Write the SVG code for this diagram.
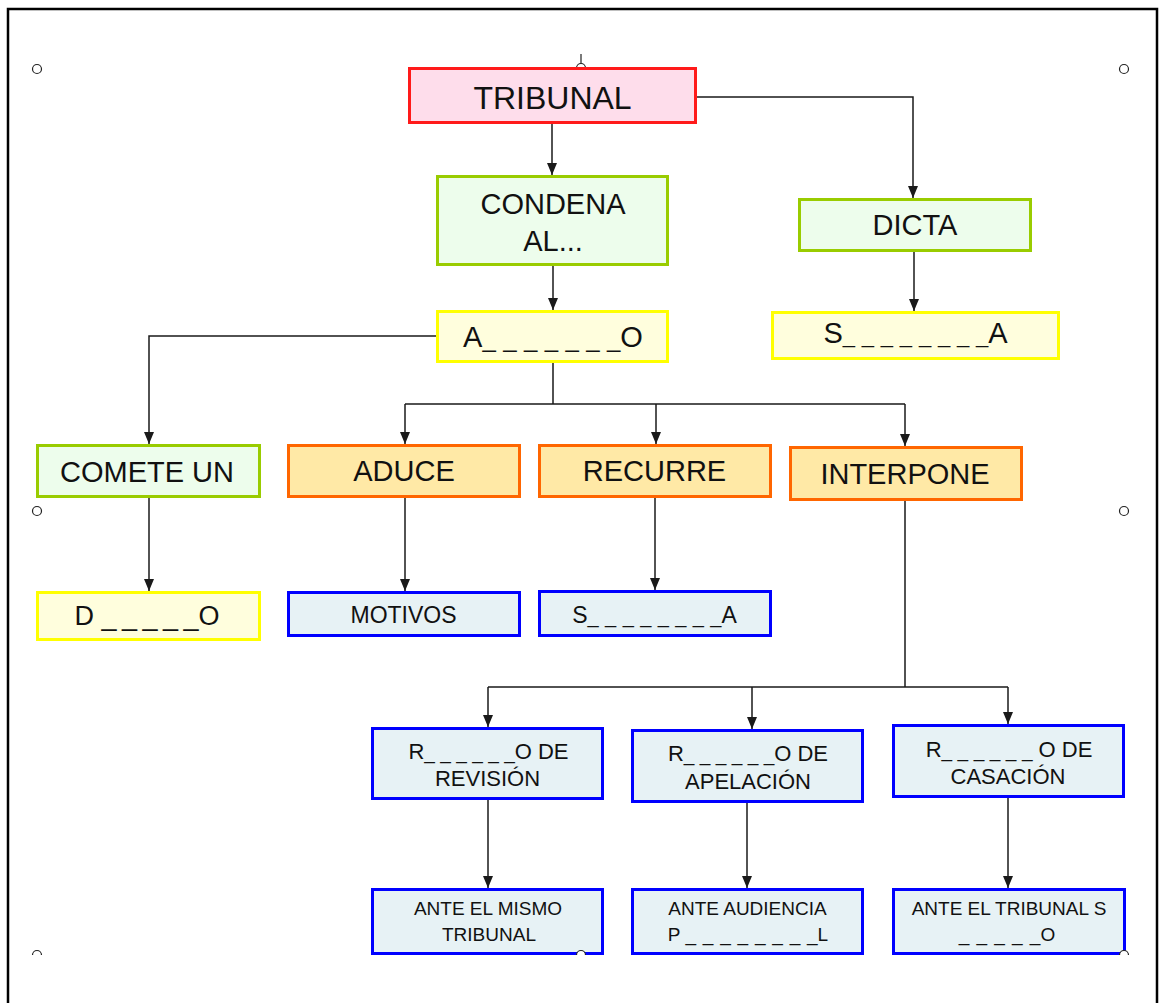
<svg xmlns="http://www.w3.org/2000/svg" width="1164" height="1003" viewBox="0 0 1164 1003">
  <defs>
    <style>
      .box { stroke-width: 3; }
      .red { fill: #FEDDEB; stroke: #FF1A1A; }
      .green { fill: #EDFDEC; stroke: #99CC00; }
      .yellow { fill: #FFFEDD; stroke: #FFFF00; }
      .orange { fill: #FFE9A6; stroke: #FF6600; }
      .blue { fill: #E7F2F5; stroke: #0000FF; }
      text { font-family: "Liberation Sans", Arial, sans-serif; fill: #111; text-anchor: middle; }
      .big { font-size: 29px; }
      .mid { font-size: 22px; }
      .sm { font-size: 19px; }
      .wire { fill: none; stroke: #1a1a1a; stroke-width: 1.5; }
      .arrow { fill: none; stroke: #1a1a1a; stroke-width: 1.5; marker-end: url(#head); }
      .handle { fill: #fff; stroke: #222; stroke-width: 1.2; }
    </style>
    <marker id="head" markerUnits="userSpaceOnUse" viewBox="0 0 12 10" refX="12" refY="5" markerWidth="12" markerHeight="10" orient="auto">
      <path d="M0,0 L12,5 L0,10 z" fill="#1a1a1a"/>
    </marker>
  </defs>

  <!-- page frame -->
  <path d="M8,1003 V9 H1157 V1003" fill="none" stroke="#000" stroke-width="2.5"/>

  <!-- selection handles -->
  <g id="handles">
    <line x1="581" y1="54" x2="581" y2="63" stroke="#222" stroke-width="1.2"/>
    <circle class="handle" cx="37" cy="69" r="4.5"/>
    <circle class="handle" cx="581" cy="68" r="4.5"/>
    <circle class="handle" cx="1124" cy="69" r="4.5"/>
    <circle class="handle" cx="37" cy="511" r="4.5"/>
    <circle class="handle" cx="1124" cy="511" r="4.5"/>
  </g>

  <!-- connectors -->
  <g id="connectors">
    <path class="arrow" d="M552,124 V175"/>
    <path class="arrow" d="M697,97 H913 V198"/>
    <path class="arrow" d="M553,266 V310"/>
    <path class="arrow" d="M914,252 V311"/>
    <path class="arrow" d="M436,336 H149 V444"/>
    <path class="wire" d="M553,363 V404 M405,404 H905"/>
    <path class="arrow" d="M405,404 V444"/>
    <path class="arrow" d="M656,404 V444"/>
    <path class="arrow" d="M905,404 V446"/>
    <path class="arrow" d="M149,498 V591"/>
    <path class="arrow" d="M405,498 V591"/>
    <path class="arrow" d="M655,498 V590"/>
    <path class="wire" d="M905,501 V687 M488,687 H1008"/>
    <path class="arrow" d="M488,687 V727"/>
    <path class="arrow" d="M752,687 V729"/>
    <path class="arrow" d="M1008,687 V724"/>
    <path class="arrow" d="M488,800 V888"/>
    <path class="arrow" d="M747,803 V888"/>
    <path class="arrow" d="M1008,798 V888"/>
  </g>

  <g id="tribunal">
    <rect class="box red" x="409.5" y="68.5" width="286" height="54"/>
    <text x="552.5" y="109" style="font-size:32px">TRIBUNAL</text>
  </g>

  <g id="condena">
    <rect class="box green" x="437.5" y="176.5" width="230" height="88"/>
    <text class="big" x="553" y="214">CONDENA</text>
    <text class="big" x="553" y="251">AL...</text>
  </g>

  <g id="dicta">
    <rect class="box green" x="799.5" y="199.5" width="231" height="51"/>
    <text class="big" x="915" y="235">DICTA</text>
  </g>

  <!-- blanks: spaced underscores, the last one set tight against the closing letter -->
  <g id="acusado">
    <rect class="box yellow" x="437.5" y="311.5" width="230" height="50"/>
    <text class="big" x="553" y="347">A<tspan style="font-size:24px" letter-spacing="7.4">______</tspan><tspan style="font-size:24px">_</tspan>O</text>
  </g>

  <g id="sentencia">
    <rect class="box yellow" x="772.5" y="312.5" width="286" height="46"/>
    <text class="big" x="915.5" y="343">S<tspan style="font-size:22px" letter-spacing="6.8">_______</tspan><tspan style="font-size:22px">_</tspan>A</text>
  </g>

  <g id="comete">
    <rect class="box green" x="37.5" y="445.5" width="222" height="51"/>
    <text class="big" x="147" y="482">COMETE UN</text>
  </g>

  <g id="aduce">
    <rect class="box orange" x="288.5" y="445.5" width="231" height="51"/>
    <text class="big" x="404" y="481">ADUCE</text>
  </g>

  <g id="recurre">
    <rect class="box orange" x="539.5" y="445.5" width="231" height="51"/>
    <text class="big" x="654.5" y="481">RECURRE</text>
  </g>

  <g id="interpone">
    <rect class="box orange" x="790.5" y="447.5" width="231" height="52"/>
    <text class="big" x="905" y="484">INTERPONE</text>
  </g>

  <g id="delito">
    <rect class="box yellow" x="37.5" y="592.5" width="222" height="47"/>
    <text x="147" y="625" style="font-size:27px">D <tspan letter-spacing="5.5">____</tspan>_O</text>
  </g>

  <g id="motivos">
    <rect class="box blue" x="288.5" y="592.5" width="231" height="43"/>
    <text x="403.5" y="623" style="font-size:23px">MOTIVOS</text>
  </g>

  <g id="sentencia-recurso">
    <rect class="box blue" x="539.5" y="591.5" width="231" height="44"/>
    <text x="654.5" y="623" style="font-size:23px">S<tspan style="font-size:20px" letter-spacing="6.4">_______</tspan><tspan style="font-size:20px">_</tspan>A</text>
  </g>

  <g id="revision">
    <rect class="box blue" x="372.5" y="728.5" width="230" height="70"/>
    <text class="mid" x="488.5" y="759">R<tspan style="font-size:19px" letter-spacing="5.4">_____</tspan><tspan style="font-size:19px">_</tspan>O DE</text>
    <text class="mid" x="487.5" y="786">REVISIÓN</text>
  </g>

  <g id="apelacion">
    <rect class="box blue" x="632.5" y="730.5" width="230" height="71"/>
    <text class="mid" x="748" y="761">R<tspan style="font-size:19px" letter-spacing="5.4">_____</tspan><tspan style="font-size:19px">_</tspan>O DE</text>
    <text class="mid" x="748" y="789">APELACIÓN</text>
  </g>

  <g id="casacion">
    <rect class="box blue" x="893.5" y="725.5" width="230" height="71"/>
    <text class="mid" x="1009" y="757">R<tspan style="font-size:19px" letter-spacing="5.5">_____</tspan><tspan style="font-size:19px">_</tspan> O DE</text>
    <text class="mid" x="1008" y="784">CASACIÓN</text>
  </g>

  <g id="mismo-tribunal">
    <rect class="box blue" x="372.5" y="889.5" width="230" height="64"/>
    <text class="sm" x="488" y="915">ANTE EL MISMO</text>
    <text class="sm" x="489" y="941">TRIBUNAL</text>
  </g>

  <g id="audiencia">
    <rect class="box blue" x="632.5" y="889.5" width="230" height="64"/>
    <text class="sm" x="747.5" y="915">ANTE AUDIENCIA</text>
    <text class="sm" x="748" y="941">P <tspan letter-spacing="6.8">_______</tspan>_L</text>
  </g>

  <g id="supremo">
    <rect class="box blue" x="893.5" y="889.5" width="231" height="64"/>
    <text class="sm" x="1009" y="915">ANTE EL TRIBUNAL S</text>
    <text class="sm" x="1007" y="941"><tspan letter-spacing="7.2">____</tspan>_O</text>
  </g>

  <!-- lower handles, cut off at the page edge -->
  <g id="handles-bottom" fill="#fff" stroke="#222" stroke-width="1.2">
    <path d="M32.5,955 A4.5,4.5 0 0 1 41.5,955"/>
    <path d="M576.5,955 A4.5,4.5 0 0 1 585.5,955"/>
    <path d="M1119.5,955 A4.5,4.5 0 0 1 1128.5,955"/>
  </g>
</svg>
